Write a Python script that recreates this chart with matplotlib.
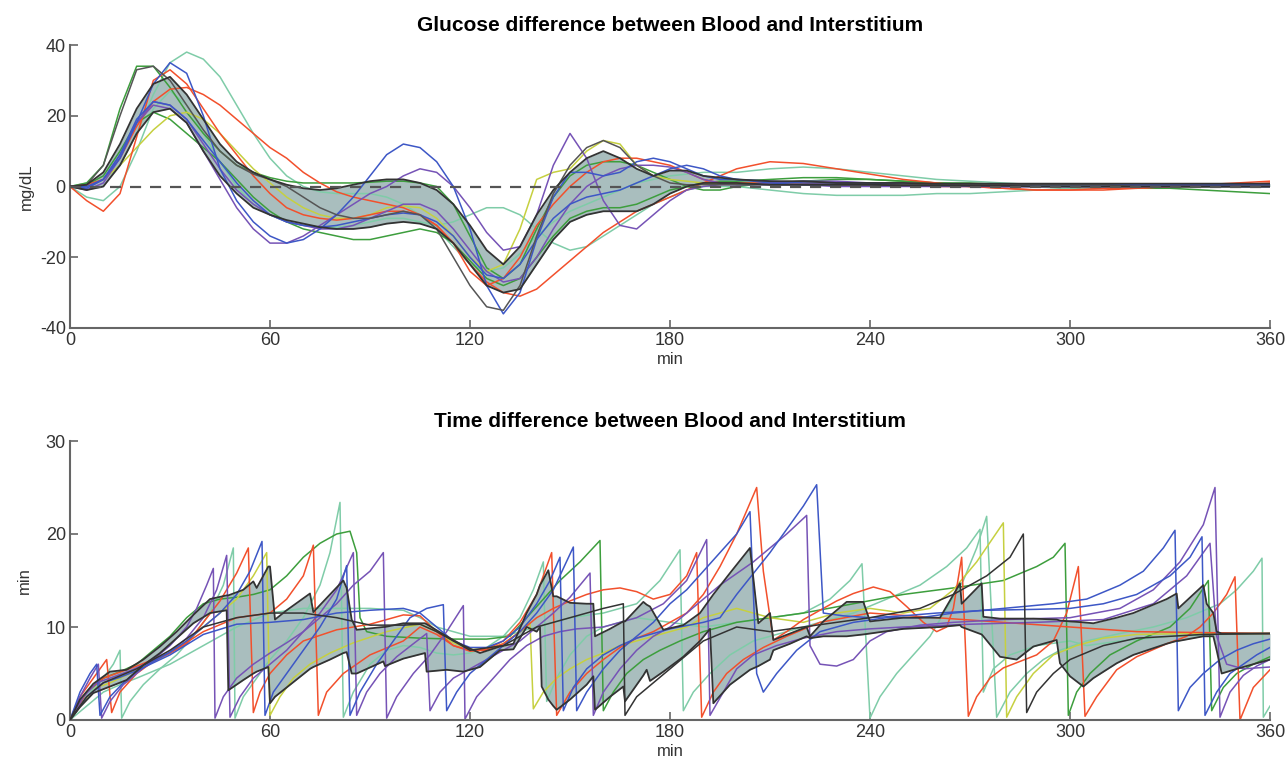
import matplotlib
matplotlib.use("Agg")
import matplotlib.pyplot as plt

plt.rcParams['font.family'] = ['Liberation Sans', 'DejaVu Sans']
plt.rcParams['axes.unicode_minus'] = False

# ---------------- top panel data (mg/dL) ----------------
t_top = list(range(0, 201, 5)) + list(range(210, 361, 10))

green_a = [0, 1, 6, 22, 34, 34, 28, 21, 15, 10, 6, 4, 2.5, 1.5, 1, 1, 1, 1, 1.2, 1.5,
           1.5, 1, 0, -5, -14, -23, -26, -22, -12, -3, 3, 6, 7, 7, 6, 4, 2, 0, -1, -1, 0,
           1, 1.5, 2, 2, 1.5, 1, 1, 0.5, 0.5, 0, 0, -0.5, -0.5, -1, -1.5, -2]
green_b = [0, 0.5, 3, 10, 18, 21, 19, 15, 11, 7, 2, -3, -7, -10, -12, -13, -14, -15, -15, -14,
           -13, -12, -13, -16, -21, -26, -28, -26, -20, -14, -9, -7, -6, -6, -5, -3, -1, 0, 1, 1.5, 1.5,
           2, 2.5, 2.5, 2, 1.5, 1, 0.5, 0.5, 0, 0, 0, 0, 0, 0, 0, 0]
mint_a = [0, 1, 2, 6, 15, 26, 35, 38, 36, 31, 23, 15, 8, 3, 0, -1.5, -2, -2, -2, -3,
          -5, -8, -12, -17, -22, -24, -23, -19, -14, -10, -7, -5, -3, -1, 1, 2, 3, 3.5, 4, 4, 4,
          5, 5.5, 5, 4, 3, 2, 1.5, 1, 0.5, 0.5, 0, 0, 0, 0, 0, 0]
mint_b = [0, -3, -4, 0, 10, 22, 27, 23, 15, 7, 0, -5, -8, -10, -11, -11.5, -11.5, -11, -10, -9,
          -9, -10, -11, -10, -8, -6, -6, -8, -12, -16, -18, -17, -14, -11, -8, -5, -3, -1, 0, 0, 0,
          -1, -2, -2.5, -2.5, -2.5, -2, -2, -1.5, -1, -0.5, -0.5, 0, 0, 0, 0, 0]
red_a = [0, -4, -7, -2, 14, 30, 33, 29, 22, 15, 9, 3, -2, -6, -8, -9, -9.5, -9, -8, -7,
         -7, -8, -11, -16, -24, -28, -26, -20, -11, -5, 0, 4, 7, 8, 8, 7, 6, 4, 2, 1, 1,
         1, 1, 0.5, 0.5, 0.5, 0, 0, -0.5, -1, -1, -0.5, -0.5, 0, 0.5, 1, 1.5]
red_b = [0, 0.5, 2, 8, 17, 24, 27.5, 28, 26, 23, 19, 15, 11, 8, 4, 1, -1.5, -3, -4, -5,
         -6, -8, -11, -16, -22, -27, -30, -31, -29, -25, -21, -17, -13, -10, -7, -5, -3, -1, 1, 3, 5,
         7, 6.5, 5, 3.5, 2, 1, 0, -0.5, -1, -1, -1, -0.5, 0, 0, 0.5, 1]
blue_a = [0, 0, 2, 8, 18, 29, 35, 32, 20, 5, -4, -10, -14, -16, -15, -12, -8, -3, 3, 9,
          12, 11, 7, 0, -12, -28, -36, -30, -15, -3, 4, 4, 3, 4, 7, 8, 7, 5, 3, 2, 2,
          1.5, 1, 1, 1, 0.5, 0.5, 0.5, 0, 0, 0, 0, 0.5, 0.5, 0.5, 0, 0]
blue_b = [0, -0.5, 2, 9, 19, 24, 23, 19, 13, 7, 1, -4, -8, -10, -11, -11.5, -11, -10, -9, -8,
          -7.5, -8, -10, -14, -20, -25, -26, -22, -15, -9, -5, -3, -2, -1, 1, 3, 5, 6, 5, 3, 2,
          1, 0.5, 0.5, 0.5, 0.5, 0.5, 0.5, 0.5, 0.5, 0.5, 0.5, 0.5, 0.5, 0.5, 0.5, 0.5]
purple_a = [0, -0.5, 2, 9, 18, 23, 22, 18, 10, 2, -6, -12, -16, -16, -14, -11, -8, -5, -2, 0,
            3, 5, 4, 0, -6, -13, -18, -17, -8, 6, 15, 8, -4, -11, -12, -8, -4, -1, 0, 0.5, 0.5,
            1, 1.5, 1.5, 1, 1, 0.5, 0.5, 0, 0, 0, 0, 0, 0, 0, 0, 0]
purple_b = [0, -1, 1, 8, 18, 24, 23, 19, 12, 5, -1, -5, -8, -10, -11, -12, -12, -11, -9, -7,
            -5, -5, -7, -12, -18, -24, -27, -26, -20, -12, -5, 0, 3, 5, 6, 6, 5.5, 4, 2, 1, 0.5,
            0.5, 0.5, 0, 0, 0, 0, 0, 0, 0, 0, 0, 0, 0, 0, 0, 0]
yellow_top = [0, 0, 2, 6, 11, 16, 20, 21, 19, 15, 10, 5, 1, -3, -6, -8, -9, -9, -8, -6,
              -5.5, -6, -9, -14, -20, -24, -22, -12, 2, 4, 5, 10, 13, 12, 6, 3, 2, 1.5, 1, 1, 1,
              1, 1, 1, 0.5, 0.5, 0.5, 0, 0, 0, 0, 0, 0, 0, 0, 0, 0]
black_top = [0, 0.5, 6, 20, 33, 34, 30, 23, 16, 10, 6, 3.5, 2, 0, -3, -6, -8, -9, -9, -8,
             -7, -8, -12, -20, -28, -34, -35, -28, -14, -2, 6, 11, 13, 11, 6, 3, 1, 0.5, 0.5, 0.5, 0.5,
             0.5, 0.5, 0.5, 0.5, 0.5, 0.5, 0.5, 0.5, 0.5, 0.5, 0.5, 0, 0, 0, 0, 0]
band_hi_top = [0, 0.5, 4, 12, 22, 29, 31, 26, 19, 12, 7, 4, 2, 0.5, -0.5, -1, -0.5, 0.5, 1.5, 2,
               2, 1, -1, -5, -11, -18, -22, -17, -8, -1, 4, 8, 10, 8, 5, 3, 4.5, 4.5, 3, 2.5, 2,
               1.5, 1.5, 1, 1, 1, 0.8, 0.8, 0.8, 0.8, 0.8, 0.8, 0.8, 0.8, 0.8, 0.8, 0.8]
band_lo_top = [0, -1, 0, 6, 15, 21, 22, 18, 10, 3, -2, -6, -8, -9.5, -10.5, -11.5, -12, -12, -11.5, -10.5,
               -10, -10.5, -12, -16, -22, -28, -30, -29, -22, -15, -10, -8, -7, -7, -7, -5, -2, 0, 1, 1, 1,
               0.5, 0.5, 0.5, 0.5, 0.3, 0.3, 0.2, 0.2, 0, 0, 0, 0, 0, 0, 0, 0]

# ---------------- bottom panel data (min), (time, value) pairs ----------------
red_a_bot = [(0, 0), (3, 2.5), (6, 4), (9, 5.5), (11, 6.5), (12.5, 0.8), (15, 3), (20, 5), (25, 6.3),
             (30, 7.2), (35, 8.2), (40, 10.5), (45, 12.8), (50, 15.8), (53.5, 18.5), (55, 0.8), (57, 3),
             (60, 5), (65, 7), (70, 8.5), (80, 9.7), (90, 10.3), (100, 11.3), (105, 11.2), (110, 9.5),
             (115, 8), (120, 7.5), (125, 7.6), (130, 8.5), (135, 10.5), (140, 13.5), (144.5, 18),
             (146, 0.5), (150, 3), (155, 5), (160, 6.5), (165, 7.8), (170, 8.8), (175, 9.5), (180, 10.5),
             (185, 11.5), (190, 13.5), (195, 16.5), (200, 20), (206, 25), (208, 16), (211, 8.6),
             (215, 9.5), (220, 10.8), (225, 11.8), (230, 12.8), (235, 13.6), (241, 14.3), (246, 13.8),
             (251, 12.2), (256, 10.5), (260, 9.5), (263, 10), (265, 12), (267.5, 17.5), (269.5, 0.4),
             (272, 2.5), (276, 4.5), (280, 5.6), (285, 6.3), (290, 7), (295, 8.5), (299, 11.5),
             (302.5, 16.5), (304.5, 0.4), (308, 2.5), (314, 5.4), (320, 6.8), (329, 8.2), (335, 9),
             (339, 10), (343, 11.5), (347, 13.5), (349.5, 15.4), (351, 0), (355, 3.5), (360, 5.4)]
red_b_bot = [(0, 0), (5, 3), (10, 4.5), (20, 5.8), (30, 7.2), (40, 9.5), (50, 11), (60, 11.5),
             (65, 13), (70, 15.5), (73, 18.8), (74.5, 0.5), (77, 3), (82, 5), (90, 7), (100, 8.5),
             (105, 10), (110, 9.2), (115, 8), (120, 7.4), (125, 7.5), (130, 8.2), (135, 9.5), (140, 11),
             (145, 12), (150, 12.8), (155, 13.5), (160, 14), (165, 14.2), (170, 13.8), (175, 13),
             (180, 13.5), (185, 15.5), (188, 18), (189.5, 0.3), (193, 3), (197, 5), (202, 6.5),
             (208, 7.8), (215, 9), (225, 10.5), (240, 11.5), (260, 11), (280, 10.5), (300, 10),
             (320, 9.5), (340, 9.4), (360, 9.3)]
blue_a_bot = [(0, 0), (3, 3), (6, 5), (8, 6), (9, 0.5), (12, 2.5), (16, 4), (20, 5.2), (25, 6.3),
              (30, 7.3), (35, 8.5), (40, 10), (45, 11.5), (50, 13.5), (54, 16), (57.6, 19.2), (58.5, 0.5),
              (61, 3), (65, 5), (70, 7.5), (75, 10), (80, 13), (83, 16.6), (84, 0.5), (87, 3), (92, 6),
              (97, 8.5), (102, 11), (107, 12), (112, 12.4), (113, 1), (116, 3), (120, 5), (125, 6.5),
              (130, 8), (135, 9.5), (140, 11.5), (145, 14), (151, 18.6), (152, 1), (155, 3), (160, 5.5),
              (165, 7.5), (170, 9), (175, 10.5), (180, 12.5), (185, 14), (190, 16), (195, 18), (200, 20),
              (204, 22.4), (206, 5), (208, 3), (212, 5), (218, 7.5), (225, 9.5), (235, 10.5), (245, 11),
              (255, 11), (265, 11.5), (280, 12), (295, 12.5), (305, 13), (315, 14.5), (322, 16),
              (328, 18.5), (331.5, 20.4), (332.5, 1), (336, 3.5), (340, 5), (345, 6.5), (350, 7.5),
              (355, 8.2), (360, 8.7)]
blue_b_bot = [(0, 0), (5, 2.5), (10, 4), (15, 4.6), (20, 5.3), (30, 7), (40, 9.2), (50, 10.3),
              (60, 10.5), (70, 10.8), (80, 11.5), (90, 11.8), (100, 12), (105, 11.5), (110, 10),
              (115, 8.5), (120, 7.8), (125, 7.8), (130, 8.5), (135, 10), (140, 12.5), (144, 15),
              (147, 17.5), (148, 1), (151, 3.5), (155, 5.5), (160, 7), (165, 8), (170, 8.8), (180, 9.8),
              (190, 10.5), (195, 11), (200, 13.5), (210, 18), (220, 23), (224, 25.3), (226, 11.5),
              (232, 11.2), (240, 11), (250, 11.2), (260, 11.5), (275, 11.8), (290, 11.9), (300, 12),
              (310, 12.5), (320, 13.5), (330, 15.5), (336, 17.5), (339.6, 19.7), (340.5, 0.5), (344, 3),
              (348, 5), (352, 6), (356, 7), (360, 7.8)]
purple_a_bot = [(0, 0), (3, 2.5), (6, 4.5), (8.5, 6), (9.5, 0.2), (12, 2), (16, 3.8), (20, 5), (25, 6.5),
                (30, 8), (35, 10), (38, 12), (41, 14.5), (43, 16.3), (43.5, 0.2), (46, 2.5), (50, 4.5),
                (55, 6), (60, 7.2), (65, 8.3), (70, 9.5), (75, 11.5), (80, 14), (85, 18), (86, 0.5),
                (89, 3), (93, 5), (98, 6.8), (103, 8.2), (107, 9.3), (108, 1), (111, 3), (115, 4.5),
                (120, 5.5), (125, 6.5), (130, 7.5), (135, 8.5), (140, 10), (145, 11.5), (150, 13.2),
                (156, 15.8), (157, 0.5), (160, 3), (165, 5.5), (170, 7.5), (175, 9), (180, 10),
                (185, 11.5), (190, 13), (195, 14.5), (205, 17), (215, 20), (221, 22), (222, 8), (225, 6),
                (230, 5.8), (235, 6.5), (240, 8.5), (245, 9.5), (255, 10.2), (265, 10.5), (280, 10.8),
                (300, 11), (315, 12), (325, 14), (333, 17), (340, 21), (343.5, 25), (345, 0.3),
                (348, 3), (352, 4.8), (356, 5.8), (360, 6.5)]
purple_b_bot = [(0, 0), (4, 2.5), (8, 4), (12, 4.5), (18, 5.3), (25, 6.4), (30, 7.3), (35, 8.8),
                (40, 11), (44, 14), (47, 17.7), (48, 0.3), (51, 2.5), (55, 4.5), (60, 6), (65, 7.5),
                (70, 9.5), (75, 11), (80, 12.5), (85, 14.5), (90, 16), (94, 18), (95, 0.2), (98, 2.5),
                (103, 5), (108, 7), (113, 9.5), (118, 12.3), (118.5, 0.1), (122, 2.5), (127, 4.5),
                (132, 6.5), (137, 8), (142, 9), (147, 9.5), (152, 9.8), (160, 10), (170, 11), (178, 12.5),
                (185, 15), (191, 19.4), (192, 0.5), (196, 3), (200, 5.5), (205, 7), (212, 8), (220, 8.8),
                (230, 9.5), (240, 9.8), (250, 10), (270, 10.3), (290, 10.5), (310, 10.8), (325, 12.5),
                (335, 15.5), (342, 19), (344, 9), (347, 6), (352, 5.5), (360, 5.7)]
mint_a_bot = [(0, 0), (5, 2.5), (10, 4.5), (13, 6), (15, 7.5), (15.5, 0.2), (18, 2), (22, 3.8),
              (27, 5.5), (32, 7), (37, 9), (42, 11.5), (46, 14.5), (49, 18.5), (49.5, 0.2), (52, 2.5),
              (56, 4.5), (60, 6.5), (65, 8.5), (70, 11), (75, 14.5), (78, 18), (81, 23.4), (82, 0.3),
              (85, 3), (90, 6), (95, 7.5), (100, 8), (105, 7.8), (110, 7.2), (115, 7), (120, 7.2),
              (125, 7.8), (130, 9), (135, 11), (139, 14), (142, 17), (143, 2), (146, 4.5), (150, 7),
              (155, 9), (160, 10), (165, 10.5), (170, 11), (180, 10.5), (190, 10), (200, 10.5),
              (210, 11), (220, 11.5), (228, 13), (234, 15), (237.6, 16.8), (240, 0.2), (243, 2.5),
              (248, 5), (253, 7), (258, 9), (263, 12), (268, 15), (272, 18.5), (275, 21.9), (278, 0.3),
              (282, 3), (287, 5), (292, 6.5), (297, 7.5), (305, 8.5), (315, 9.3), (325, 10), (335, 11),
              (345, 12.5), (350, 14), (355, 16), (357.6, 17.4), (358, 0.3), (360, 1.5)]
mint_c_bot = [(0, 0), (5, 1.5), (10, 3), (15, 3.8), (20, 4.5), (30, 6), (40, 8), (50, 10), (60, 11.5),
              (70, 12), (80, 12), (90, 12), (100, 11.8), (105, 11), (110, 10), (120, 9), (130, 9),
              (140, 10), (150, 11), (160, 11.5), (170, 12.5), (177, 15), (183, 18.3), (184, 1), (187, 3),
              (192, 5), (198, 7), (205, 8.5), (215, 9.5), (225, 10.5), (235, 11.5), (245, 13),
              (255, 14.5), (263, 16.5), (269, 18.5), (273, 20.5), (274, 3), (277, 5.5), (282, 7),
              (290, 8), (300, 8.5), (305, 8), (315, 8.5), (330, 9), (345, 9.2), (360, 9.3)]
green_bot = [(0, 0), (5, 3), (10, 4.5), (15, 5.2), (20, 6), (25, 7.5), (30, 9), (35, 11), (40, 12.5),
             (45, 13), (50, 13.2), (55, 13.5), (60, 14), (65, 15.5), (70, 17.5), (75, 19), (80, 20),
             (84, 20.3), (86, 18), (87, 11), (89, 9.5), (95, 9), (105, 8.8), (115, 8.7), (125, 8.7),
             (132, 9), (137, 11), (142, 13), (147, 15), (153, 17), (159, 19.3), (160, 1), (163, 3),
             (167, 5), (172, 6.5), (177, 7.5), (183, 8.5), (190, 9.5), (200, 10.5), (210, 11),
             (220, 11.5), (235, 12.5), (250, 13.5), (265, 14.2), (280, 15), (290, 16.5), (295, 17.5),
             (298.5, 19), (299.5, 0.5), (302, 3), (306, 5), (312, 7), (320, 8.5), (330, 10), (336, 12),
             (341.5, 15), (342.5, 1), (346, 3.5), (350, 5), (355, 6), (360, 6.8)]
yellow_bot = [(0, 0), (4, 2), (8, 3.5), (12, 4), (18, 5), (25, 6.3), (30, 7.2), (35, 8.5), (40, 10),
              (45, 11.5), (50, 13), (55, 15.5), (59, 18), (60, 0.5), (63, 2.5), (67, 4.5), (72, 6),
              (78, 7.2), (85, 8.3), (95, 9.5), (105, 10.3), (110, 9.5), (115, 8.3), (120, 7.6),
              (125, 7.6), (130, 8.2), (135, 9.5), (138, 10.5), (139, 1.2), (142, 3), (146, 4.5),
              (150, 5.5), (155, 6.5), (160, 7.2), (165, 8), (170, 8.5), (175, 9), (180, 9.5), (185, 10),
              (190, 11), (200, 12), (210, 11), (220, 10.5), (230, 11.5), (240, 12), (250, 11.5),
              (258, 12), (265, 14), (272, 17), (280, 21.2), (281, 0.3), (284, 2.5), (289, 5), (295, 7),
              (302, 8), (310, 8.8), (320, 9.2), (335, 9.3), (350, 9.3), (360, 9.3)]
black_bot = [(0, 0), (5, 2.5), (10, 4), (20, 5.5), (30, 7.5), (40, 10), (50, 11), (60, 11.5),
             (70, 11.5), (80, 11), (90, 10.2), (100, 10.2), (105, 10.3), (110, 9.5), (120, 7.5),
             (130, 8), (140, 10), (150, 11), (160, 12), (166, 12.5), (166.5, 0.5), (170, 2.5), (175, 4),
             (180, 5.5), (185, 7), (190, 8.5), (200, 10), (210, 9.5), (220, 10), (240, 11), (255, 12),
             (265, 13.5), (275, 15.5), (282, 17.5), (286, 20), (287, 0.8), (290, 3), (295, 5),
             (300, 6.5), (310, 8), (320, 8.8), (340, 9.2), (360, 9.3)]

band_t_bot = [0, 3, 7, 12, 17, 22, 27, 32, 37, 42, 47, 47.5, 52, 55, 56, 59.5, 60, 61.5, 65, 72, 73,
              78, 82, 83, 84.5, 86, 94, 94.5, 100, 106.5, 107, 113, 118, 123, 129, 133, 137, 140, 141,
              141.5, 143.5, 145, 146, 150, 155, 157, 157.5, 162, 166, 166.5, 172, 173, 174, 178, 184,
              189, 192, 193, 198, 204, 206.5, 210, 211, 216, 221, 222, 226, 233, 238, 240, 250, 261,
              267, 267.5, 273.5, 274, 279, 284, 289, 296, 297, 300, 304, 307, 314, 319, 329, 332,
              332.5, 340, 341, 343, 344, 345.5, 350, 355, 360]
band_hi_bot = [0, 2.2, 3.9, 5.2, 5.4, 6.5, 7.9, 9.5, 11.3, 13, 13.4, 13.4, 14, 14.9, 14.2, 16.5, 16.5,
               10.8, 11.8, 13.6, 11.6, 13.5, 15, 14.2, 10.8, 9.7, 10, 10, 10.4, 10.4, 10.3, 9, 8, 7.2,
               7.9, 8.2, 11.5, 13.5, 14.5, 14.8, 16.1, 13.3, 13.3, 12.6, 12.5, 12.5, 9, 9.8, 10.6,
               10.6, 12.7, 12.4, 12.2, 9.7, 10.2, 11.5, 13, 13.5, 15.8, 18.5, 10.4, 11.5, 8.6, 9.3,
               10, 9, 10.6, 12.7, 12.7, 10.6, 11, 11, 14.7, 12.5, 14.7, 11.1, 10.9, 10.9, 10.9, 10.8,
               10.7, 10.6, 10.5, 10.4, 11, 11.5, 13, 13.6, 12, 14.5, 12.5, 11.5, 9.5, 9.3, 9.3, 9.3, 9.3]
band_lo_bot = [0, 1.4, 2.9, 3.6, 4.3, 5.9, 7.2, 8.8, 10.4, 11.5, 11.8, 3.2, 4.3, 5, 5.2, 5.7, 1.8,
               2.5, 3.5, 5.5, 5.7, 6.5, 7.2, 7.3, 5, 5, 6.3, 5.8, 6.6, 7.2, 5.2, 5.4, 5.2, 5.7, 7.5,
               7.6, 10, 9.5, 10, 3.6, 2.2, 1.5, 1.1, 2.2, 3.8, 4.7, 1.1, 2.5, 3.6, 2, 4.8, 5.4, 4.2,
               5.2, 6.8, 8.5, 9.8, 1.8, 3.8, 5.4, 5.8, 6.5, 7.5, 8.2, 9, 8.8, 9, 9, 9.2, 9.3, 9.8, 10,
               10.2, 10, 9.2, 9, 6.8, 6.5, 7.9, 8.6, 6.1, 4.7, 3.6, 4.5, 6.1, 7, 8.2, 8.5, 8.5, 9, 9,
               9, 7.5, 5, 5.5, 6, 6.5]

RED = '#f2502c'
BLUE = '#3d57c6'
PURPLE = '#7653b6'
GREEN = '#3d9e3d'
MINT = '#7fcca8'
YELLOW = '#c6d040'
BLACK = '#333333'
BAND = '#a9bebe'
AXC = '#666666'

top_lines = [(mint_a, MINT), (mint_b, MINT), (green_b, GREEN), (green_a, GREEN), (yellow_top, YELLOW),
             (red_b, RED), (red_a, RED), (purple_b, PURPLE), (purple_a, PURPLE), (blue_b, BLUE),
             (blue_a, BLUE), (black_top, '#555555')]
bot_lines = [(mint_c_bot, MINT), (mint_a_bot, MINT), (green_bot, GREEN), (yellow_bot, YELLOW),
             (red_b_bot, RED), (red_a_bot, RED), (purple_b_bot, PURPLE), (purple_a_bot, PURPLE),
             (blue_b_bot, BLUE), (blue_a_bot, BLUE), (black_bot, BLACK)]

fig = plt.figure(figsize=(12.88, 7.72), dpi=100)
ax1 = fig.add_axes([70 / 1288, 1 - 328 / 772, 1200 / 1288, 283 / 772])
ax2 = fig.add_axes([70 / 1288, 1 - 720 / 772, 1200 / 1288, 279 / 772])

# top panel
ax1.fill_between(t_top, band_lo_top, band_hi_top, color=BAND, lw=0, zorder=1)
for vals, c in top_lines:
    ax1.plot(t_top, vals, color=c, lw=1.1, zorder=2)
ax1.plot(t_top, band_hi_top, color=BLACK, lw=1.3, zorder=3)
ax1.plot(t_top, band_lo_top, color=BLACK, lw=1.3, zorder=3)
ax1.axhline(0, color='#555555', lw=1.6, ls=(0, (5, 4)), zorder=4)
ax1.set_xlim(0, 360)
ax1.set_ylim(-40, 40)
ax1.set_yticks([-40, -20, 0, 20, 40])
ax1.set_ylabel('mg/dL', fontsize=12, color='#333333', labelpad=4)
ax1.set_title('Glucose difference between Blood and Interstitium', fontsize=15,
              fontweight='bold', pad=10)

# bottom panel
ax2.fill_between(band_t_bot, band_lo_bot, band_hi_bot, color=BAND, lw=0, zorder=1)
for pts, c in bot_lines:
    xs = [p[0] for p in pts]
    ys = [p[1] for p in pts]
    ax2.plot(xs, ys, color=c, lw=1.1, zorder=2)
ax2.plot(band_t_bot, band_hi_bot, color=BLACK, lw=1.3, zorder=3)
ax2.plot(band_t_bot, band_lo_bot, color=BLACK, lw=1.3, zorder=3)
ax2.set_xlim(0, 360)
ax2.set_ylim(0, 30)
ax2.set_yticks([0, 10, 20, 30])
ax2.set_ylabel('min', fontsize=12, color='#333333', labelpad=10)
ax2.set_title('Time difference between Blood and Interstitium', fontsize=15,
              fontweight='bold', pad=10)

for ax in (ax1, ax2):
    ax.set_xticks([0, 60, 120, 180, 240, 300, 360])
    ax.set_xlabel('min', fontsize=12, color='#333333', labelpad=2)
    for s in ('top', 'right'):
        ax.spines[s].set_visible(False)
    for s in ('left', 'bottom'):
        ax.spines[s].set_color(AXC)
        ax.spines[s].set_linewidth(1.5)
    ax.tick_params(direction='in', length=6, width=1.2, color=AXC, labelsize=13,
                   labelcolor='#333333', pad=3)

fig.savefig('out.png', dpi=100)
